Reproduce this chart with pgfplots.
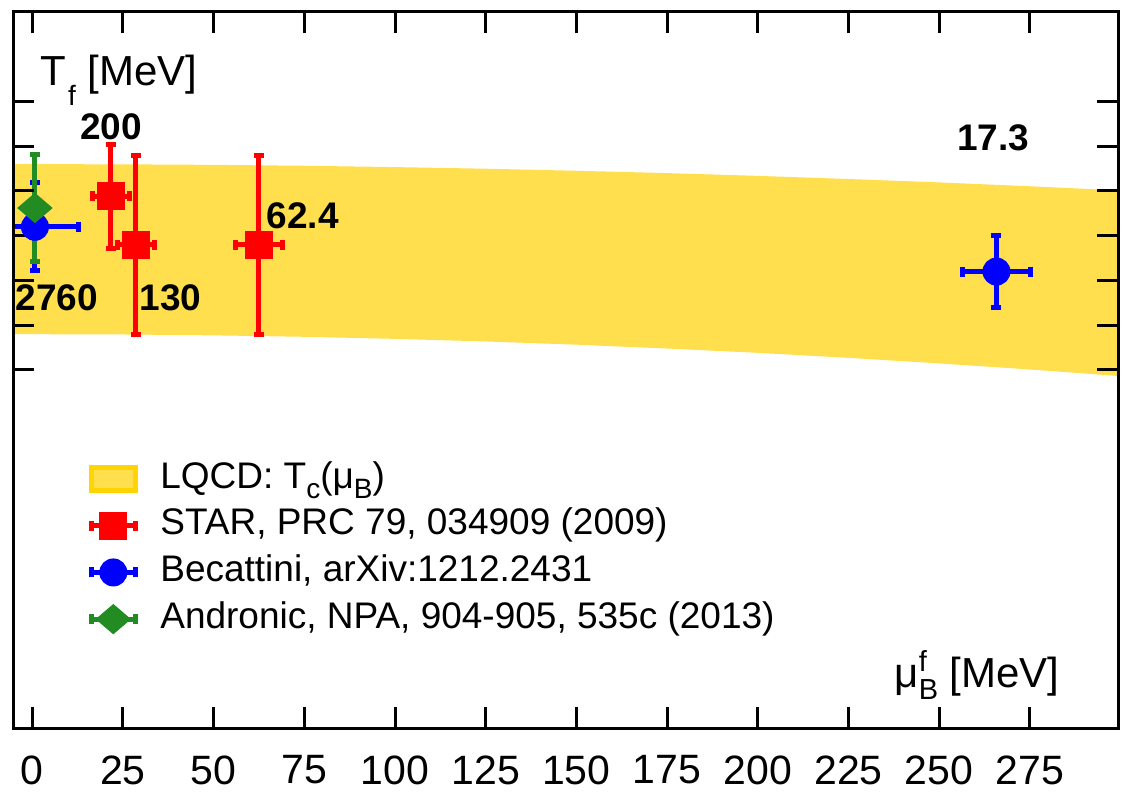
\documentclass[border=0pt]{standalone}
\usepackage{pgfplots}
\pgfplotsset{compat=1.18}
\usepackage{fontspec}
\setmainfont{Liberation Sans}
\definecolor{bandyellow}{RGB}{255,223,77}
\definecolor{bandgold}{RGB}{255,212,0}
\definecolor{mygreen}{RGB}{34,139,34}
\newcommand{\fs}[1]{\fontsize{#1}{#1}\selectfont}
\begin{document}
\begin{tikzpicture}
\begin{axis}[
  scale only axis, width=552.5bp, height=358bp,
  xmin=-5.3, xmax=299.3, ymin=100, ymax=180,
  axis on top,
  xtick={0,25,...,275}, ytick={140,145,...,170}, yticklabels={},
  tick align=inside, major tick length=10.5bp,
  tick style={black, line width=1.5bp},
  axis line style={line width=1.5bp},
  /pgf/number format/assume math mode=true,
  xticklabel style={font=\fs{20.5bp}, inner sep=0pt, anchor=north, yshift=-13.5bp},
  legend style={at={(rel axis cs:0.066,0.372)}, anchor=north west, draw=none, fill=none,
    font=\fs{18.5bp}, inner sep=0pt, row sep=6.35bp, column sep=10bp,
    nodes={inner sep=0pt, text height=13bp, text depth=4bp}},
  legend cell align=left,
  error bars/error bar style={line width=2.5bp},
  error bars/error mark options={rotate=90, mark size=2.5bp, line width=2.5bp},
]
% LQCD band
\addplot[fill=bandyellow, draw=none,
  legend image code/.code={
    \draw[draw=bandgold, fill=bandyellow, line width=2.5bp] (1.25bp,-5.75bp) rectangle (23.25bp,5.75bp);
  }] coordinates {
  (-10,163.00) (0,163.00) (25,162.98) (50,162.92) (75,162.82) (100,162.67)
  (125,162.49) (150,162.26) (175,162.00) (200,161.69) (225,161.34) (250,160.96)
  (275,160.53) (300,160.06) (310,159.86)
  (310,138.99) (300,139.31) (275,140.06) (250,140.74) (225,141.36) (200,141.92)
  (175,142.40) (150,142.83) (125,143.19) (100,143.48) (75,143.71) (50,143.87)
  (25,143.97) (0,144.00) (-10,143.99)
} -- cycle;
\addlegendentry{LQCD: T\raisebox{-5bp}{\fs{14bp}c}(μ\raisebox{-5bp}{\fs{14bp}B})}
% STAR
\addplot[red, only marks, mark=square*, mark size=6.75bp, line width=0.5bp,
  error bars/.cd, x dir=both, x explicit, y dir=both, y explicit,
  /pgfplots/legend image code/.code={
    \draw[line width=2.5bp] (0bp,0bp) -- (24.5bp,0bp);
    \draw[line width=2.5bp] (1.25bp,-2.5bp) -- (1.25bp,2.5bp);
    \draw[line width=2.5bp] (23.25bp,-2.5bp) -- (23.25bp,2.5bp);
    \draw[line width=0.5bp] plot coordinates {(12.25bp,0bp)};
  }]
  table[x=x, y=y, x error=ex, y error=ey] {
  x y ex ey
  21.7 159.4 5.1 5.8
  28.6 154.0 5.2 10.0
  62.4 154.0 6.5 10.0
};
\addlegendentry{STAR, PRC 79, 034909 (2009)}
% Becattini
\addplot[blue, only marks, mark=*, mark size=6.75bp, line width=0.5bp,
  error bars/.cd, x dir=both, x explicit, y dir=both, y explicit,
  /pgfplots/legend image code/.code={
    \draw[line width=2.5bp] (0bp,0bp) -- (24.5bp,0bp);
    \draw[line width=2.5bp] (1.25bp,-2.5bp) -- (1.25bp,2.5bp);
    \draw[line width=2.5bp] (23.25bp,-2.5bp) -- (23.25bp,2.5bp);
    \draw[line width=0.5bp] plot coordinates {(12.25bp,0bp)};
  }]
  table[x=x, y=y, x error=ex, y error=ey] {
  x y ex ey
  0.75 156.0 11.9 4.9
  265.8 151.0 9.4 4.0
};
\addlegendentry{Becattini, arXiv:1212.2431}
% Andronic
\addplot[mygreen, only marks, mark=diamond*, mark size=7.25bp, line width=0.5bp,
  mark options={xscale=1.56},
  error bars/.cd, y dir=both, y explicit,
  /pgfplots/legend image code/.code={
    \draw[line width=2.5bp] (0bp,0bp) -- (24.5bp,0bp);
    \draw[line width=2.5bp] (1.25bp,-2.5bp) -- (1.25bp,2.5bp);
    \draw[line width=2.5bp] (23.25bp,-2.5bp) -- (23.25bp,2.5bp);
    \draw[line width=0.5bp] plot coordinates {(12.25bp,0bp)};
  }]
  table[x=x, y=y, y error=ey] {
  x y ey
  0.75 158.1 6.0
};
\addlegendentry{Andronic, NPA, 904-905, 535c (2013)}
% energy labels
\node[font=\bfseries\fs{18.5bp}, inner sep=0pt] at (axis cs:21.7,167.15) {200};
\node[font=\bfseries\fs{18.5bp}, inner sep=0pt] at (axis cs:38.1,148.1) {130};
\node[font=\bfseries\fs{18.5bp}, inner sep=0pt] at (axis cs:6.8,148.1) {2760};
\node[font=\bfseries\fs{18.5bp}, inner sep=0pt] at (axis cs:74.6,157.2) {62.4};
\node[font=\bfseries\fs{18.5bp}, inner sep=0pt] at (axis cs:264.9,166.0) {17.3};
% axis labels
\node[anchor=base west, inner sep=0pt, font=\fs{21bp}] at (rel axis cs:0.0244,0.898)
  {T\kern1bp\raisebox{-10bp}{\fs{14bp}f} [MeV]};
\node[anchor=base east, inner sep=0pt, font=\fs{21bp}] at (rel axis cs:0.9475,0.0559)
  {μ\rlap{\raisebox{8bp}{\fs{14.5bp}f}}\raisebox{-6bp}{\fs{14.5bp}B} [MeV]};
\end{axis}
\pgfresetboundingbox
\path ([xshift=-6.5bp,yshift=-33bp]current axis.south west) rectangle ([xshift=3bp,yshift=6bp]current axis.north east);
\end{tikzpicture}
\end{document}
